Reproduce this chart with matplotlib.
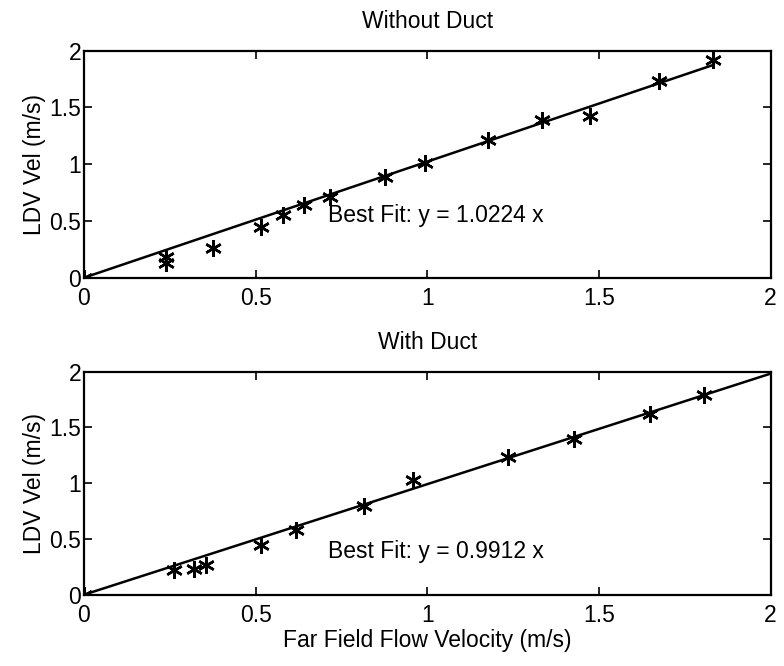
import matplotlib.pyplot as plt
import numpy as np

plt.rcParams['font.family'] = ['Liberation Sans', 'DejaVu Sans']

# Without duct
x_nd = [0, 0.238, 0.238, 0.377, 0.516, 0.579, 0.642, 0.717, 0.876, 0.994,
        1.176, 1.334, 1.473, 1.676, 1.832]
y_nd = [0, 0.18, 0.13, 0.26, 0.45, 0.555, 0.643, 0.711, 0.89, 1.01,
        1.216, 1.392, 1.42, 1.73, 1.915]
slope_nd = 1.0224

# With duct
x_d = [0, 0.262, 0.321, 0.356, 0.515, 0.618, 0.816, 0.957, 1.234, 1.427,
       1.65, 1.806]
y_d = [0, 0.218, 0.23, 0.27, 0.448, 0.576, 0.797, 1.03, 1.238, 1.40,
       1.62, 1.79]
slope_d = 0.9912

fig = plt.figure(figsize=(7.84, 6.66), dpi=100)
ax1 = fig.add_axes([0.107, 0.583, 0.876, 0.341])
ax2 = fig.add_axes([0.107, 0.107, 0.876, 0.335])

asterisk = (6, 2, 0)
fs = 16.5

panels = [
    (ax1, x_nd, y_nd, slope_nd, max(x_nd), "Without Duct", 0.55),
    (ax2, x_d, y_d, slope_d, 2.0, "With Duct", 0.385),
]
for ax, xs, ys, k, xend, title, ty in panels:
    xf = np.array([0, xend])
    ax.plot(xf, k * xf, color='black', lw=1.8)
    ax.plot(xs, ys, linestyle='none', marker=asterisk, color='black',
            markersize=12, markeredgewidth=1.8)
    ax.set_xlim(0, 2)
    ax.set_ylim(0, 2)
    ax.set_xticks([0, 0.5, 1, 1.5, 2])
    ax.set_xticklabels(['0', '0.5', '1', '1.5', '2'])
    ax.set_yticks([0, 0.5, 1, 1.5, 2])
    ax.set_yticklabels(['0', '0.5', '1', '1.5', '2'])
    ax.tick_params(direction='in', top=True, right=True, length=6,
                   width=1.2, labelsize=fs)
    ax.tick_params(axis='x', pad=7)
    ax.tick_params(axis='y', pad=2)
    for s in ax.spines.values():
        s.set_linewidth(1.6)
    ax.set_ylabel('LDV Vel (m/s)', fontsize=fs, labelpad=2)
    ax.set_title(title, fontsize=fs, pad=16)
    ax.text(0.71, ty, f'Best Fit: y = {k:.4f} x', fontsize=fs,
            va='center', ha='left')

ax2.set_xlabel('Far Field Flow Velocity (m/s)', fontsize=fs, labelpad=1)

fig.savefig('out.png', dpi=100)
